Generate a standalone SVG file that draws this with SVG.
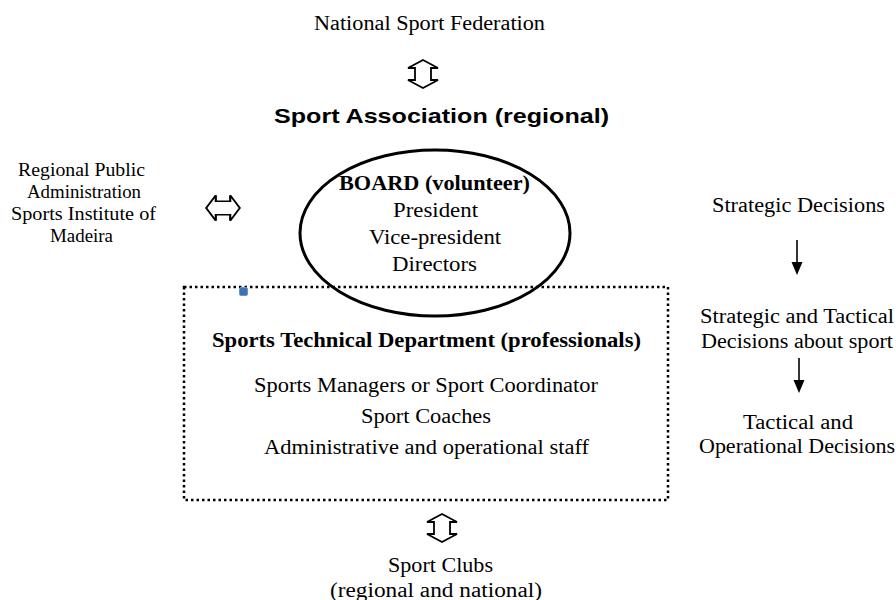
<svg xmlns="http://www.w3.org/2000/svg" width="896" height="600" viewBox="0 0 896 600">
<style>
.t{font-family:"Liberation Serif","Times New Roman",serif;font-size:20.5px;fill:#000;text-anchor:middle}
.l{font-size:19.5px}
.b{font-weight:bold}
.s{font-family:"Liberation Sans",Arial,sans-serif;font-size:21px;font-weight:bold;fill:#000;text-anchor:middle}
.dbl{fill:#fff;stroke:#000;stroke-width:1.8;stroke-linejoin:miter}
.ln{stroke:#000;stroke-width:1.6;fill:none}
.hd{fill:#000}
</style>
<defs>
<path id="vdbl" d="M0,-14 L15,-6 L8,-6 L8,6 L15,6 L0,14 L-15,6 L-8,6 L-8,-6 L-15,-6 Z"/>
</defs>
<rect width="896" height="600" fill="#fff"/>
<g id="federation"><text class="t" x="429.5" y="30" textLength="231" lengthAdjust="spacingAndGlyphs">National Sport Federation</text></g>
<g id="association"><text class="s" x="441.5" y="123" textLength="335" lengthAdjust="spacingAndGlyphs">Sport Association (regional)</text></g>
<g id="regional-admin">
<text class="t l" x="81.5" y="176" textLength="127" lengthAdjust="spacingAndGlyphs">Regional Public</text>
<text class="t l" x="84" y="198" textLength="114" lengthAdjust="spacingAndGlyphs">Administration</text>
<text class="t l" x="83.5" y="220" textLength="145" lengthAdjust="spacingAndGlyphs">Sports Institute of</text>
<text class="t l" x="81.5" y="242" textLength="63" lengthAdjust="spacingAndGlyphs">Madeira</text>
</g>
<g id="board">
<ellipse cx="435" cy="233" rx="135" ry="83" fill="none" stroke="#000" stroke-width="3"/>
<text class="t b" x="434.5" y="190" textLength="191" lengthAdjust="spacingAndGlyphs">BOARD (volunteer)</text>
<text class="t" x="435.5" y="217" textLength="85" lengthAdjust="spacingAndGlyphs">President</text>
<text class="t" x="435" y="244" textLength="132" lengthAdjust="spacingAndGlyphs">Vice-president</text>
<text class="t" x="434.5" y="271" textLength="85" lengthAdjust="spacingAndGlyphs">Directors</text>
</g>
<g id="department">
<rect x="184" y="287" width="484" height="213" fill="none" stroke="#000" stroke-width="2.5" stroke-dasharray="2.5,3"/>
<rect x="239.5" y="287.5" width="8" height="8" rx="1.5" fill="#3f72b0" stroke="#6a96cc" stroke-width="1"/>
<text class="t b" x="426.5" y="347" textLength="429" lengthAdjust="spacingAndGlyphs">Sports Technical Department (professionals)</text>
<text class="t" x="426" y="392" textLength="344" lengthAdjust="spacingAndGlyphs">Sports Managers or Sport Coordinator</text>
<text class="t" x="426" y="423" textLength="130" lengthAdjust="spacingAndGlyphs">Sport Coaches</text>
<text class="t" x="426.5" y="454" textLength="325" lengthAdjust="spacingAndGlyphs">Administrative and operational staff</text>
</g>
<g id="clubs">
<text class="t" x="440.5" y="572" textLength="105" lengthAdjust="spacingAndGlyphs">Sport Clubs</text>
<text class="t" x="436" y="597" textLength="212" lengthAdjust="spacingAndGlyphs">(regional and national)</text>
</g>
<g id="strategic"><text class="t" x="798.5" y="212" textLength="173" lengthAdjust="spacingAndGlyphs">Strategic Decisions</text></g>
<g id="strategic-tactical">
<text class="t" x="797" y="323" textLength="194" lengthAdjust="spacingAndGlyphs">Strategic and Tactical</text>
<text class="t" x="797" y="348" textLength="192" lengthAdjust="spacingAndGlyphs">Decisions about sport</text>
</g>
<g id="tactical">
<text class="t" x="798" y="429" textLength="110" lengthAdjust="spacingAndGlyphs">Tactical and</text>
<text class="t" x="797" y="453" textLength="196" lengthAdjust="spacingAndGlyphs">Operational Decisions</text>
</g>
<g id="connectors">
<use href="#vdbl" class="dbl" transform="translate(423,74)"/>
<use href="#vdbl" class="dbl" transform="translate(223,208) rotate(90) scale(0.85,1.2)"/>
<use href="#vdbl" class="dbl" transform="translate(442,528)"/>
<line class="ln" x1="797" y1="240" x2="797" y2="263"/>
<polygon class="hd" points="791.5,262 802.5,262 797,275"/>
<line class="ln" x1="799" y1="358" x2="799" y2="381"/>
<polygon class="hd" points="793.5,380 804.5,380 799,393"/>
</g>
</svg>
